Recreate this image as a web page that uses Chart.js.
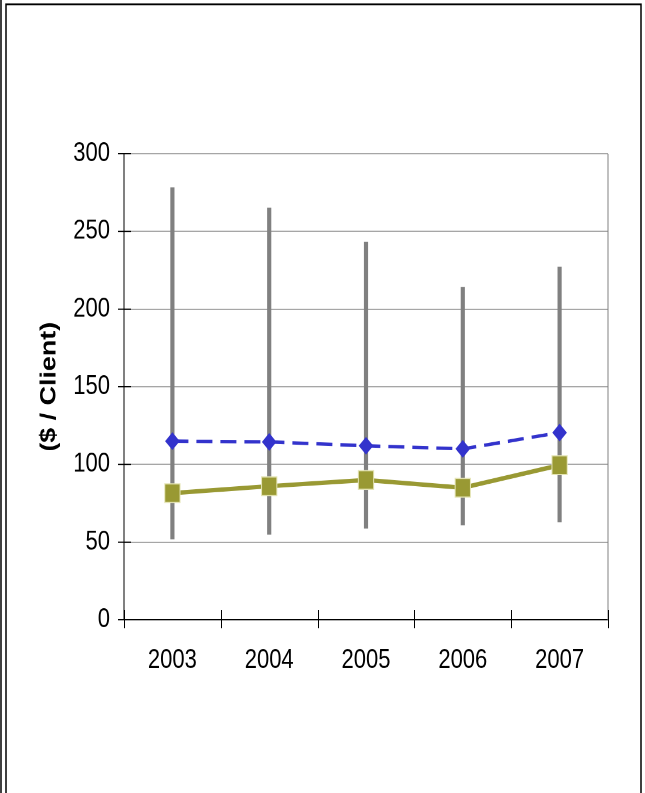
<!DOCTYPE html>
<html>
<head>
<meta charset="utf-8">
<script src="https://cdn.jsdelivr.net/npm/chart.js@4/dist/chart.umd.min.js"></script>
<style>
    html, body { margin: 0; padding: 0; background: #fff; }
    #page { width: 645px; height: 793px; position: relative; overflow: hidden; }
    /* the reference is stretched vertically, so draw at 650 high and scale */
    #wrap { position: absolute; left: 0; top: 0; width: 645px; height: 650px;
            transform: scaleY(1.22); transform-origin: 0 0; }
</style>
</head>
<body>
<div id="page"><div id="wrap"><canvas id="chart" width="645" height="650"></canvas></div></div>
<script>
(function() {
    'use strict';

    // Chart data
    const years = ['2003', '2004', '2005', '2006', '2007'];
    const rangeLow = [52, 55, 59, 61, 63];
    const rangeHigh = [278, 265, 243, 214, 227];
    const blueSeries = [115, 114.5, 112, 110, 120.5];
    const oliveSeries = [81.5, 86, 90, 85, 99.5];
    const yMin = 0;
    const yMax = 300;
    const yStep = 50;

    const FONT = "'Liberation Sans', Arial, sans-serif";

    /**
     * Excel-style extras: crossing tick marks, plot border, page frame
     */
    const framePlugin = {
        id: 'frame',
        afterDraw: function(chart) {
            const ctx = chart.ctx;
            const area = chart.chartArea;
            const xs = chart.scales.x;
            const ys = chart.scales.y;

            ctx.save();
            ctx.lineWidth = 1;

            // right border of the plot
            ctx.strokeStyle = '#808080';
            ctx.beginPath();
            ctx.moveTo(area.right, area.top);
            ctx.lineTo(area.right, area.bottom);
            ctx.stroke();

            // crossing ticks
            ctx.strokeStyle = '#000';
            ctx.beginPath();
            for (let i = 0; i <= years.length; i++) {
                const px = Math.round(xs.getPixelForValue(i - 0.5)) + 0.5;
                ctx.moveTo(px, area.bottom - 8);
                ctx.lineTo(px, area.bottom + 7);
            }
            ys.ticks.forEach(function(t) {
                const py = ys.getPixelForValue(t.value);
                ctx.moveTo(area.left - 6, py);
                ctx.lineTo(area.left + 7, py);
            });
            ctx.stroke();

            // page frame
            ctx.lineWidth = 1.5;
            ctx.beginPath();
            ctx.moveTo(1, 0);
            ctx.lineTo(1, chart.height);
            ctx.moveTo(6, chart.height);
            ctx.lineTo(6, 3.5);
            ctx.lineTo(641, 3.5);
            ctx.lineTo(641, chart.height);
            ctx.stroke();
            ctx.restore();
        }
    };

    const ctx = document.getElementById('chart').getContext('2d');

    new Chart(ctx, {
        data: {
            labels: years,
            datasets: [
                {
                    type: 'line',
                    data: oliveSeries,
                    borderColor: '#999933',
                    borderWidth: 3.6,
                    pointStyle: 'rect',
                    pointRadius: 10.8,
                    pointBackgroundColor: '#999933',
                    pointBorderColor: '#e4e4b4',
                    pointBorderWidth: 1,
                    tension: 0,
                    order: 1
                },
                {
                    type: 'line',
                    data: blueSeries,
                    borderColor: '#3333cc',
                    borderWidth: 2.8,
                    borderDash: [16, 8],
                    pointStyle: 'rectRot',
                    pointRadius: 7.3,
                    pointBackgroundColor: '#3333cc',
                    pointBorderWidth: 0,
                    tension: 0,
                    order: 2
                },
                {
                    type: 'bar',
                    data: years.map(function(_, i) { return [rangeLow[i], rangeHigh[i]]; }),
                    backgroundColor: '#808080',
                    borderWidth: 0,
                    barThickness: 3.5,
                    order: 3
                }
            ]
        },
        options: {
            responsive: false,
            animation: false,
            devicePixelRatio: 2,
            layout: {
                padding: { top: 126, left: 0, right: 37, bottom: 0 }
            },
            plugins: {
                legend: { display: false },
                tooltip: { enabled: false }
            },
            scales: {
                x: {
                    type: 'category',
                    offset: true,
                    afterFit: function(scale) { scale.height = 142; },
                    grid: { display: false, drawTicks: false },
                    border: { display: true, color: '#000', width: 1 },
                    ticks: {
                        color: '#000',
                        padding: 20,
                        font: { family: FONT, size: 22 }
                    }
                },
                y: {
                    min: yMin,
                    max: yMax,
                    afterFit: function(scale) { scale.width = 124; },
                    grid: { color: '#a6a6a6', lineWidth: 1, drawTicks: false },
                    border: { display: true, color: '#000', width: 1 },
                    ticks: {
                        stepSize: yStep,
                        color: '#000',
                        padding: 14,
                        font: { family: FONT, size: 22 }
                    },
                    title: {
                        display: true,
                        text: '($ / Client)',
                        color: '#000',
                        padding: { top: 36, bottom: 0 },
                        font: { family: FONT, size: 22, weight: 'bold' }
                    }
                }
            }
        },
        plugins: [framePlugin]
    });
})();
</script>
</body>
</html>
